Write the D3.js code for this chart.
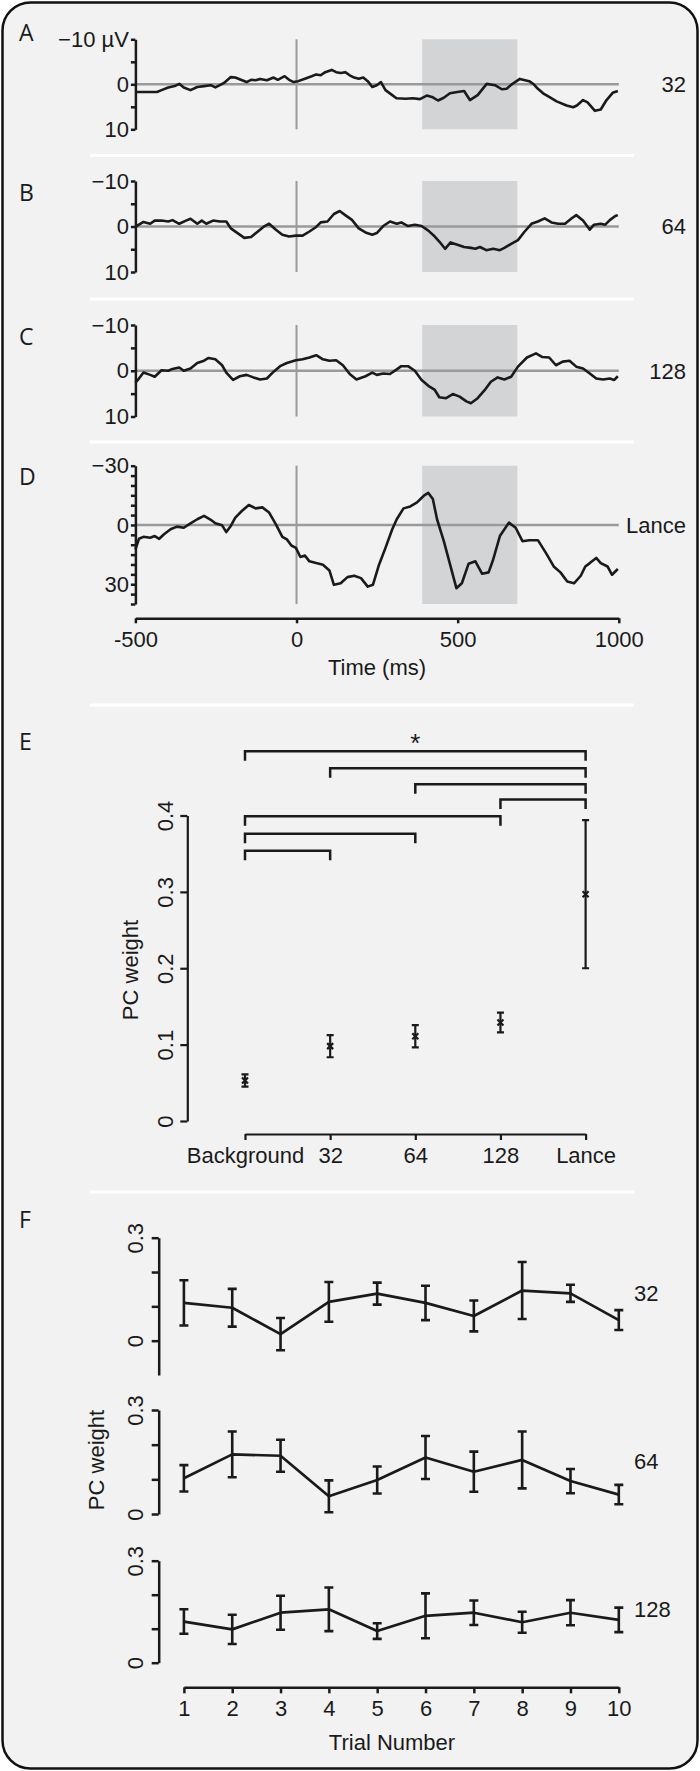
<!DOCTYPE html>
<html>
<head>
<meta charset="utf-8">
<script src="https://cdn.jsdelivr.net/npm/d3@7"></script>
<style>
    body { margin: 0; background: #fff; }
    svg { display: block; }
    text { font-family: "Liberation Sans", Arial, sans-serif; fill: #1a1a1a; }
    .letter { font-family: "Open Sans", sans-serif; font-size: 23px; }
</style>
</head>
<body>
<div id="svgContainer"></div>
<script>
// ERP waveforms, [time ms, amplitude µV] (negative plotted up)
const waveA = [[-500,1.7],[-433,1.7],[-419,1.3],[-398,0.7],[-378,0.4],[-364,-0.1],[-350,0.7],[-329,1.3],[-308,0.6],[-287,0.4],[-266,0.2],[-252,0.7],[-238,0.2],[-225,-0.3],[-204,-1.6],[-190,-1.5],[-169,-0.9],[-155,-0.5],[-141,-1.0],[-127,-0.9],[-113,-1.2],[-92,-0.9],[-71,-1.5],[-58,-1.0],[-37,-1.8],[-23,-1.0],[-9,-0.5],[5,-0.7],[26,-1.25],[47,-1.8],[61,-2.2],[75,-2.0],[89,-2.7],[109,-3.2],[123,-2.7],[137,-2.5],[151,-2.7],[165,-2.0],[179,-1.5],[193,-1.25],[207,-1.5],[221,-0.7],[235,0.6],[249,0.2],[262,-0.5],[276,1.3],[297,2.4],[310,3.1],[339,3.2],[361,3.1],[383,3.3],[404,2.5],[423,2.9],[439,3.6],[457,3.0],[476,2.0],[499,1.7],[520,1.5],[538,3.5],[562,2.4],[590,-0.1],[616,0.2],[637,1.1],[652,1.0],[668,0.0],[693,-1.2],[722,-0.7],[736,0],[749,1.0],[765,2.0],[784,2.8],[807,3.8],[838,4.7],[858,5.1],[870,4.7],[889,3.5],[903,4.0],[926,5.9],[944,5.6],[962,3.5],[981,1.9],[997,1.5]];
const waveB = [[-500,0.1],[-489,-0.4],[-475,-1.0],[-454,-0.6],[-440,-1.3],[-419,-1.3],[-398,-1.1],[-385,-1.4],[-364,-0.6],[-343,-1.3],[-329,-1.7],[-308,-0.6],[-294,-1.3],[-280,-0.6],[-259,-1.3],[-238,-1.1],[-218,-1.1],[-204,0.4],[-183,1.45],[-162,2.5],[-141,2.3],[-120,1.1],[-99,-0.1],[-85,-0.6],[-64,0.7],[-44,1.8],[-23,2.2],[-2,2.0],[19,2.0],[40,1.1],[61,0.1],[75,-0.9],[96,-1.1],[116,-2.75],[134,-3.4],[151,-2.5],[172,-1.45],[193,0.4],[214,1.3],[235,1.8],[249,1.45],[269,-0.1],[290,-1.1],[311,-0.6],[325,-0.9],[346,-0.1],[367,-0.4],[388,-0.1],[409,0.9],[429,2.2],[443,3.3],[461,4.9],[478,3.5],[499,4.0],[520,4.5],[541,4.7],[555,4.9],[569,4.5],[589,5.2],[610,4.9],[631,5.2],[645,4.7],[666,3.8],[687,3.0],[708,1.1],[729,-0.6],[749,-1.1],[770,-1.8],[791,-0.9],[812,-0.6],[833,-0.6],[854,-1.8],[868,-2.5],[889,-1.3],[910,0.7],[923,-0.4],[944,-0.6],[958,-0.4],[972,-1.4],[989,-2.3],[997,-2.5]];
const waveC = [[-500,2.6],[-489,1.7],[-475,0.4],[-454,0.9],[-440,1.3],[-419,-0.1],[-398,0],[-385,-0.4],[-364,-0.7],[-350,0],[-329,-0.5],[-308,-1.7],[-287,-2.2],[-273,-2.8],[-252,-2.5],[-231,-1.2],[-218,0.4],[-197,2.0],[-176,1.2],[-155,0.9],[-134,1.45],[-113,1.9],[-92,1.7],[-71,0.2],[-51,-1.0],[-30,-1.7],[-2,-2.3],[19,-2.5],[40,-2.9],[61,-3.4],[82,-2.5],[102,-2.2],[123,-2.3],[144,-1.2],[165,0.7],[186,1.9],[214,1.2],[235,0.4],[249,0.9],[269,0.6],[290,0.7],[311,-0.3],[325,-1.0],[346,-1.0],[367,0],[388,2.0],[409,3.3],[429,4.2],[443,5.8],[464,6.0],[485,5.1],[506,5.65],[527,6.7],[541,7.1],[562,6.0],[583,4.3],[603,2.4],[624,1.45],[645,1.9],[666,1.3],[687,-0.9],[715,-2.9],[743,-3.8],[763,-3.0],[784,-2.9],[805,-1.2],[826,-2.0],[847,-2.2],[868,-0.9],[889,-0.5],[910,0.6],[930,1.7],[951,1.9],[972,1.7],[986,2.0],[997,1.2]];
const waveD = [[-500,12.4],[-489,7.0],[-475,6.0],[-454,6.5],[-440,5.6],[-426,7.0],[-412,4.8],[-391,2.2],[-371,0.85],[-350,1.4],[-329,-0.85],[-308,-2.9],[-287,-4.6],[-266,-2.6],[-252,-0.85],[-231,0.2],[-218,3.6],[-204,0.5],[-190,-3.75],[-169,-7.2],[-148,-10.1],[-127,-8.4],[-106,-8.9],[-85,-6.3],[-64,-0.3],[-44,6.0],[-30,7.3],[-16,10.4],[-2,11.6],[12,16.2],[26,15.5],[40,18.4],[61,19.3],[82,20.1],[102,23.0],[116,30.3],[137,29.5],[158,26.4],[179,25.7],[200,26.9],[221,31.2],[237,30.3],[256,20.1],[276,11.6],[297,2.2],[311,-2.9],[332,-8.4],[353,-9.4],[374,-11.4],[395,-14.8],[409,-16.2],[423,-13.1],[436,-2.9],[457,8.2],[478,21.0],[496,32.0],[513,29.5],[534,19.6],[555,18.4],[576,24.7],[596,24.0],[610,17.6],[631,5.6],[659,-1.2],[680,1.4],[701,8.2],[722,7.7],[749,7.7],[777,15.0],[798,21.0],[819,24.0],[840,28.6],[861,29.5],[882,25.7],[896,21.0],[910,19.3],[930,16.7],[944,19.3],[965,21.0],[979,25.2],[997,22.3]];

const shadeWindow = [390, 685];
const timeTicks = [-500, 0, 500, 1000];
const smallTicks = [-10, -5, 0, 5, 10];
const smallLabelled = [-10, 0, 10];
const lanceTicks = [-30, -25, -20, -15, -10, -5, 0, 5, 10, 15, 20, 25, 30, 35, 40];
const lanceLabelled = [-30, 0, 30];

// Panel E: mean PC weight per condition
const conditions = ["Background", "32", "64", "128", "Lance"];
const condMeans = [0.053, 0.098, 0.111, 0.129, 0.297];
const condErrors = [0.008, 0.0145, 0.0145, 0.013, 0.097];
const bracketPairs = [["Background", "Lance"], ["32", "Lance"], ["64", "Lance"], ["128", "Lance"], ["Background", "128"], ["Background", "64"], ["Background", "32"]];
const bracketLevels = [0.484, 0.462, 0.441, 0.421, 0.399, 0.376, 0.354];
const weightTicksE = [0, 0.1, 0.2, 0.3, 0.4];

// Panel F: PC weight by trial number
const trials = [1, 2, 3, 4, 5, 6, 7, 8, 9, 10];
const means32 = [0.110, 0.096, 0.019, 0.113, 0.137, 0.110, 0.072, 0.146, 0.138, 0.060];
const errs32 = [0.066, 0.055, 0.047, 0.058, 0.032, 0.050, 0.045, 0.083, 0.025, 0.029];
const means64 = [0.103, 0.172, 0.168, 0.051, 0.098, 0.163, 0.122, 0.156, 0.095, 0.056];
const errs64 = [0.038, 0.066, 0.046, 0.046, 0.039, 0.062, 0.058, 0.082, 0.035, 0.028];
const means128 = [0.121, 0.098, 0.147, 0.157, 0.093, 0.138, 0.147, 0.119, 0.147, 0.126];
const errs128 = [0.036, 0.043, 0.050, 0.064, 0.023, 0.066, 0.036, 0.031, 0.037, 0.036];
const weightTicksF = [0, 0.1, 0.2, 0.3];

const width = 700;
const height = 1771;
const ink = "#1a1a1a";
const gray = "#9a9a9a";

const svg = d3.select("#svgContainer").append("svg")
    .attr("width", width)
    .attr("height", height);

// rounded frame
svg.append("rect")
    .attr("x", 2.5).attr("y", 2.5)
    .attr("width", 695).attr("height", 1766)
    .attr("rx", 28)
    .attr("fill", "#f2f2f2")
    .attr("stroke", "#111")
    .attr("stroke-width", 2.5);

// white separators between panels
svg.append("g")
    .selectAll("line")
    .data([155.6, 299, 442, 705, 1192])
    .join("line")
    .attr("x1", 90).attr("x2", 634)
    .attr("y1", d => d).attr("y2", d => d)
    .attr("stroke", "#fff")
    .attr("stroke-width", 3);

const letter = (txt, y) => svg.append("text")
    .attr("class", "letter")
    .attr("x", 19).attr("y", y)
    .attr("dy", "0.36em")
    .text(txt);

function styleAxis(g, w) {
    g.select(".domain").attr("stroke", ink).attr("stroke-width", w);
    g.selectAll(".tick line").attr("stroke", ink).attr("stroke-width", w);
    g.selectAll(".tick text").attr("fill", ink).attr("font-size", 22)
        .attr("font-family", "'Liberation Sans', Arial, sans-serif");
}

// ---------- Panels A-D ----------
const x = d3.scaleLinear().domain([-500, 1000]).range([135.4, 618.8]);

const wavePanels = [
    {letter: "A", letterY: 33, wave: waveA, domain: [-10, 10], range: [39.3, 129.3], ticks: smallTicks, labelled: smallLabelled, unit: true, name: "32"},
    {letter: "B", letterY: 193, wave: waveB, domain: [-10, 10], range: [181, 272], ticks: smallTicks, labelled: smallLabelled, unit: false, name: "64"},
    {letter: "C", letterY: 336.7, wave: waveC, domain: [-10, 10], range: [325, 416.5], ticks: smallTicks, labelled: smallLabelled, unit: false, name: "128"},
    {letter: "D", letterY: 476.7, wave: waveD, domain: [-30, 40], range: [465.7, 604], ticks: lanceTicks, labelled: lanceLabelled, unit: false, name: "Lance"}
];

wavePanels.forEach(p => {
    const y = d3.scaleLinear().domain(p.domain).range(p.range);
    const g = svg.append("g");

    g.append("rect")
        .attr("x", x(shadeWindow[0]))
        .attr("width", x(shadeWindow[1]) - x(shadeWindow[0]))
        .attr("y", y(p.domain[0]))
        .attr("height", y(p.domain[1]) - y(p.domain[0]))
        .attr("fill", "#d3d4d6");

    g.append("line")
        .attr("x1", x(-500)).attr("x2", x(1000))
        .attr("y1", y(0)).attr("y2", y(0))
        .attr("stroke", gray).attr("stroke-width", 2.5);

    g.append("line")
        .attr("x1", x(0)).attr("x2", x(0))
        .attr("y1", y(p.domain[0])).attr("y2", y(p.domain[1]))
        .attr("stroke", gray).attr("stroke-width", 2);

    g.append("path")
        .datum(p.wave)
        .attr("fill", "none")
        .attr("stroke", ink)
        .attr("stroke-width", 2.6)
        .attr("stroke-linejoin", "round")
        .attr("d", d3.line().x(d => x(d[0])).y(d => y(d[1])));

    const fmt = v => {
        if (!p.labelled.includes(v)) return "";
        const s = v < 0 ? "\u2212" + Math.abs(v) : String(v);
        return p.unit && v === p.domain[0] ? s + " µV" : s;
    };

    const ax = g.append("g")
        .attr("transform", `translate(${x(-500)},0)`)
        .call(d3.axisLeft(y).tickValues(p.ticks).tickSize(4.5).tickSizeOuter(0).tickPadding(2).tickFormat(fmt));
    styleAxis(ax, 2.5);

    g.append("text")
        .attr("x", 686).attr("y", y(0))
        .attr("dy", "0.36em")
        .attr("text-anchor", "end")
        .attr("font-size", 22)
        .text(p.name);

    letter(p.letter, p.letterY);
});

const xAxisD = svg.append("g")
    .attr("transform", "translate(0,618.3)")
    .call(d3.axisBottom(x).tickValues(timeTicks).tickSize(5).tickSizeOuter(0).tickPadding(8).tickFormat(d => String(d)));
styleAxis(xAxisD, 2.5);

svg.append("text")
    .attr("x", 377).attr("y", 674.5)
    .attr("text-anchor", "middle")
    .attr("font-size", 22)
    .text("Time (ms)");

// ---------- Panel E ----------
letter("E", 741.7);

const xE = d3.scalePoint().domain(conditions).range([245, 585.6]);
const yE = d3.scaleLinear().domain([0, 0.4]).range([1121, 815.5]);

const yAxisE = svg.append("g")
    .attr("transform", "translate(187.3,0)")
    .call(d3.axisLeft(yE).tickValues(weightTicksE).tickSize(7).tickSizeOuter(0).tickFormat(d3.format("")));
styleAxis(yAxisE, 2.2);
yAxisE.selectAll(".tick text")
    .attr("x", null).attr("dy", "0.36em")
    .attr("text-anchor", "middle")
    .attr("transform", "translate(-22,0) rotate(-90)");

const xAxisE = svg.append("g")
    .attr("transform", "translate(0,1134)")
    .call(d3.axisBottom(xE).tickSize(6).tickSizeOuter(0).tickPadding(7));
styleAxis(xAxisE, 2.2);

svg.append("text")
    .attr("transform", "translate(130,970) rotate(-90)")
    .attr("dy", "0.36em")
    .attr("text-anchor", "middle")
    .attr("font-size", 22)
    .text("PC weight");

// significance brackets
const legLen = 9.5;
svg.append("g")
    .selectAll("path")
    .data(bracketPairs.map((pair, i) => ({pair, level: bracketLevels[i]})))
    .join("path")
    .attr("fill", "none")
    .attr("stroke", ink)
    .attr("stroke-width", 2.5)
    .attr("d", d => {
        const yy = yE(d.level);
        return `M${xE(d.pair[0])},${yy + legLen}V${yy}H${xE(d.pair[1])}V${yy + legLen}`;
    });

svg.append("text")
    .attr("x", (xE("Background") + xE("Lance")) / 2)
    .attr("y", yE(bracketLevels[0]) + 1)
    .attr("text-anchor", "middle")
    .attr("font-size", 26)
    .text("*");

const pointsE = svg.append("g")
    .selectAll("g")
    .data(conditions.map((c, i) => ({c, m: condMeans[i], e: condErrors[i]})))
    .join("g")
    .attr("stroke", ink)
    .attr("stroke-width", 2.2);
pointsE.append("line")
    .attr("x1", d => xE(d.c)).attr("x2", d => xE(d.c))
    .attr("y1", d => yE(d.m - d.e)).attr("y2", d => yE(d.m + d.e));
pointsE.append("path")
    .attr("fill", "none")
    .attr("d", d => {
        const cx = xE(d.c), lo = yE(d.m - d.e), hi = yE(d.m + d.e), cy = yE(d.m);
        return `M${cx - 3.5},${lo}H${cx + 3.5}M${cx - 3.5},${hi}H${cx + 3.5}` +
            `M${cx - 3},${cy - 3}L${cx + 3},${cy + 3}M${cx - 3},${cy + 3}L${cx + 3},${cy - 3}`;
    });

// ---------- Panel F ----------
letter("F", 1220);

const xF = d3.scaleLinear().domain([1, 10]).range([183.9, 618.8]);

const trialRows = [
    {means: means32, errs: errs32, domain: [-0.1, 0.3], range: [1375, 1237.7], name: "32", nameY: 1293},
    {means: means64, errs: errs64, domain: [0, 0.3], range: [1514, 1410], name: "64", nameY: 1460.7},
    {means: means128, errs: errs128, domain: [0, 0.3], range: [1662.7, 1560.7], name: "128", nameY: 1609}
];

trialRows.forEach(r => {
    const y = d3.scaleLinear().domain(r.domain).range(r.range);
    const g = svg.append("g");

    const ax = g.append("g")
        .attr("transform", "translate(158.7,0)")
        .call(d3.axisLeft(y).tickValues(weightTicksF).tickSize(7).tickSizeOuter(0)
            .tickFormat(d => (d === 0 || d === 0.3) ? String(d) : ""));
    styleAxis(ax, 2.5);
    ax.selectAll(".tick text")
        .attr("x", null).attr("dy", "0.36em")
        .attr("text-anchor", "middle")
        .attr("transform", "translate(-23.5,0) rotate(-90)");

    const pts = trials.map((t, i) => ({t, m: r.means[i], e: r.errs[i]}));

    g.append("path")
        .datum(pts)
        .attr("fill", "none")
        .attr("stroke", ink)
        .attr("stroke-width", 2.7)
        .attr("stroke-linejoin", "round")
        .attr("d", d3.line().x(d => xF(d.t)).y(d => y(d.m)));

    g.append("g")
        .selectAll("path")
        .data(pts)
        .join("path")
        .attr("fill", "none")
        .attr("stroke", ink)
        .attr("stroke-width", 2.6)
        .attr("d", d => {
            const cx = xF(d.t), lo = y(d.m - d.e), hi = y(d.m + d.e);
            return `M${cx},${lo}V${hi}M${cx - 4.5},${lo}H${cx + 4.5}M${cx - 4.5},${hi}H${cx + 4.5}`;
        });

    g.append("text")
        .attr("x", 634).attr("y", r.nameY)
        .attr("dy", "0.36em")
        .attr("font-size", 22)
        .text(r.name);
});

svg.append("text")
    .attr("transform", "translate(96.4,1460) rotate(-90)")
    .attr("dy", "0.36em")
    .attr("text-anchor", "middle")
    .attr("font-size", 22)
    .text("PC weight");

const xAxisF = svg.append("g")
    .attr("transform", "translate(0,1687.3)")
    .call(d3.axisBottom(xF).tickValues(trials).tickSize(6).tickSizeOuter(0).tickPadding(7).tickFormat(d3.format("d")));
styleAxis(xAxisF, 2.5);

svg.append("text")
    .attr("x", 392).attr("y", 1749.5)
    .attr("text-anchor", "middle")
    .attr("font-size", 22)
    .text("Trial Number");
</script>
</body>
</html>
